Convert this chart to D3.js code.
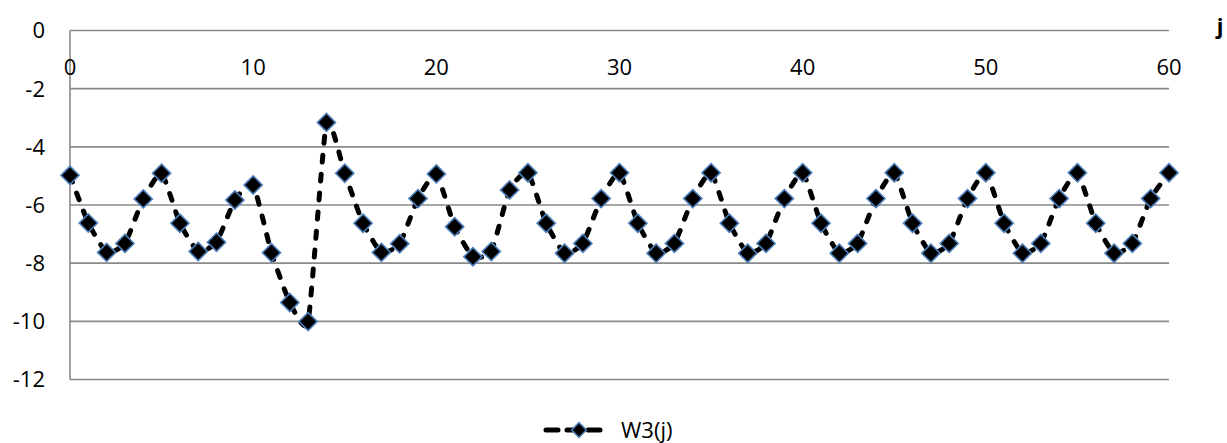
<!DOCTYPE html>
<html><head><meta charset="utf-8">
<script src="https://cdn.jsdelivr.net/npm/d3@7"></script>
<style>body{margin:0;background:#fff;} svg{display:block;font-family:"Open Sans",sans-serif;}</style>
</head><body>
<script>
const jValues = d3.range(0, 61);
const w3Values = [
 -4.98,-6.62,-7.63,-7.32,-5.79,-4.91,-6.63,-7.60,-7.28,-5.83,
 -5.31,-7.64,-9.35,-10.01,-3.16,-4.91,-6.63,-7.63,-7.33,-5.78,
 -4.93,-6.75,-7.78,-7.60,-5.48,-4.89,-6.63,-7.66,-7.32,-5.78,
 -4.89,-6.63,-7.66,-7.32,-5.78,-4.89,-6.63,-7.66,-7.32,-5.78,
 -4.89,-6.63,-7.66,-7.32,-5.78,-4.89,-6.63,-7.66,-7.32,-5.78,
 -4.89,-6.63,-7.66,-7.32,-5.78,-4.89,-6.63,-7.66,-7.32,-5.78,
 -4.89];
const xTicks = [0,10,20,30,40,50,60];
const yTicks = [0,-2,-4,-6,-8,-10,-12];
const seriesName = "W3(j)";
const axisName = "j";

const W = 1227, H = 443;
const svg = d3.select("body").append("svg").attr("width", W).attr("height", H);
const x = d3.scaleLinear().domain([0, 60]).range([70, 1169]);
const y = d3.scaleLinear().domain([0, -12]).range([30.5, 379.5]);
const grid = "#8a8a8a";

svg.append("g").selectAll("line").data(yTicks).join("line")
  .attr("x1", x(0)).attr("x2", x(60))
  .attr("y1", d => y(d)).attr("y2", d => y(d))
  .attr("stroke", grid).attr("stroke-width", 1.6);
svg.append("line").attr("x1", x(0)).attr("x2", x(0)).attr("y1", y(0)).attr("y2", y(-12))
  .attr("stroke", grid).attr("stroke-width", 1.6);

svg.append("g").selectAll("text").data(yTicks).join("text")
  .attr("x", 45).attr("y", d => y(d)).attr("dy", "0.36em")
  .attr("text-anchor", "end").attr("font-size", 22).attr("fill", "#000")
  .text(d => String(d));
svg.append("g").selectAll("text").data(xTicks).join("text")
  .attr("x", d => x(d)).attr("y", 67).attr("dy", "0.36em")
  .attr("text-anchor", "middle").attr("font-size", 22).attr("fill", "#000")
  .text(d => d);
svg.append("text").attr("x", 1220).attr("y", 26).attr("dy", "0.36em")
  .attr("text-anchor", "middle").attr("font-size", 22).attr("font-weight", "bold").text(axisName);

const data = jValues.map((j, i) => ({ j, v: w3Values[i] }));
const line = d3.line().x(d => x(d.j)).y(d => y(d.v)).curve(d3.curveCardinal.tension(0.5));
svg.append("path").datum(data).attr("d", line)
  .attr("fill", "none").attr("stroke", "#000").attr("stroke-width", 5)
  .attr("stroke-dasharray", "7 12").attr("stroke-linecap", "round");

const marker = d3.symbol().type(d3.symbolSquare).size(165);
svg.append("g").selectAll("path").data(data).join("path")
  .attr("d", marker)
  .attr("transform", d => `translate(${x(d.j)},${y(d.v)}) rotate(45)`)
  .attr("fill", "#000").attr("stroke", "#4a7ebb").attr("stroke-width", 1.6);

const lg = svg.append("g");
lg.append("line").attr("x1", 546).attr("x2", 605).attr("y1", 430).attr("y2", 430)
  .attr("stroke", "#000").attr("stroke-width", 5).attr("stroke-dasharray", "12 9").attr("stroke-linecap", "round");
lg.append("path").attr("d", d3.symbol().type(d3.symbolSquare).size(110))
  .attr("transform", "translate(579,430) rotate(45)")
  .attr("fill", "#000").attr("stroke", "#4a7ebb").attr("stroke-width", 1.5);
lg.append("text").attr("x", 621).attr("y", 430).attr("dy", "0.36em")
  .attr("font-size", 22).text(seriesName);
</script>
</body></html>
